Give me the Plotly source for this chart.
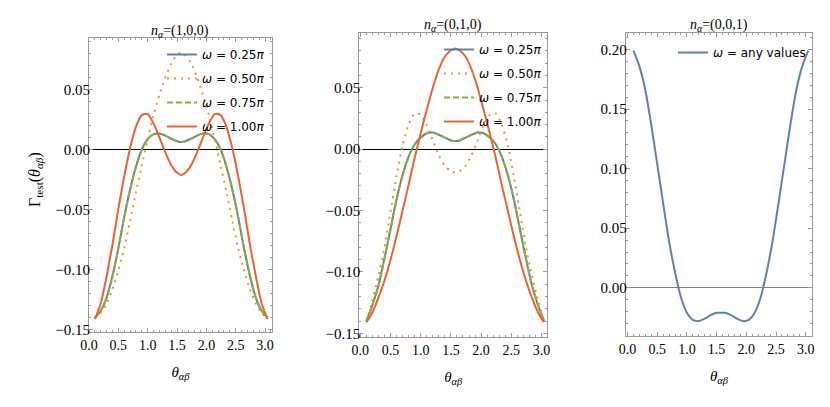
import plotly.graph_objects as go

# ---------------- data ----------------
theta = [0.1, 0.2, 0.3, 0.4, 0.5, 0.6, 0.7, 0.8, 0.9, 1.0, 1.1, 1.2, 1.3, 1.4, 1.5, 1.571,
         1.642, 1.742, 1.842, 1.942, 2.042, 2.142, 2.242, 2.342, 2.442, 2.542, 2.642, 2.742, 2.842, 2.942, 3.042]

# panel 1: n_alpha = (1,0,0)
p1_w025 = [-0.140, -0.134, -0.123, -0.105, -0.082, -0.056, -0.033, -0.014, 0.0005, 0.009, 0.0132, 0.0137, 0.012, 0.0094, 0.0073, 0.0067,
           0.0073, 0.0094, 0.012, 0.0137, 0.0132, 0.009, 0.0005, -0.014, -0.033, -0.056, -0.082, -0.105, -0.123, -0.134, -0.140]
p1_w050 = [-0.140, -0.136, -0.128, -0.116, -0.100, -0.082, -0.059, -0.035, -0.013, 0.009, 0.029, 0.046, 0.0605, 0.072, 0.079, 0.081,
           0.079, 0.072, 0.0605, 0.046, 0.029, 0.009, -0.013, -0.035, -0.059, -0.082, -0.100, -0.116, -0.128, -0.136, -0.140]
p1_w075 = [-0.140, -0.134, -0.123, -0.105, -0.082, -0.056, -0.033, -0.014, 0.0005, 0.009, 0.0132, 0.0137, 0.012, 0.0094, 0.0073, 0.0067,
           0.0073, 0.0094, 0.012, 0.0137, 0.0132, 0.009, 0.0005, -0.014, -0.033, -0.056, -0.082, -0.105, -0.123, -0.134, -0.140]
p1_w100 = [-0.141, -0.128, -0.105, -0.079, -0.049, -0.022, 0.0015, 0.0193, 0.029, 0.0299, 0.022, 0.0105, -0.002, -0.0125, -0.019, -0.0208,
           -0.019, -0.0125, -0.002, 0.0105, 0.022, 0.0299, 0.029, 0.0193, 0.0015, -0.022, -0.049, -0.079, -0.105, -0.128, -0.141]

# panel 2: n_alpha = (0,1,0)
p2_w025 = [-0.140, -0.127, -0.111, -0.089, -0.065, -0.041, -0.021, -0.006, 0.004, 0.0095, 0.013, 0.0135, 0.0117, 0.0094, 0.0071, 0.0066,
           0.0071, 0.0094, 0.0117, 0.0135, 0.013, 0.0095, 0.004, -0.006, -0.021, -0.041, -0.065, -0.089, -0.111, -0.127, -0.140]
p2_w050 = [-0.140, -0.123, -0.103, -0.080, -0.051, -0.022, 0.003, 0.020, 0.029, 0.028, 0.019, 0.007, -0.005, -0.0135, -0.018, -0.019,
           -0.018, -0.0135, -0.005, 0.007, 0.019, 0.028, 0.029, 0.020, 0.003, -0.022, -0.051, -0.080, -0.103, -0.123, -0.140]
p2_w075 = [-0.140, -0.127, -0.111, -0.089, -0.065, -0.041, -0.021, -0.006, 0.004, 0.0095, 0.013, 0.0135, 0.0117, 0.0094, 0.0071, 0.0066,
           0.0071, 0.0094, 0.0117, 0.0135, 0.013, 0.0095, 0.004, -0.006, -0.021, -0.041, -0.065, -0.089, -0.111, -0.127, -0.140]
p2_w100 = [-0.141, -0.133, -0.121, -0.107, -0.090, -0.071, -0.050, -0.029, -0.007, 0.013, 0.032, 0.050, 0.065, 0.0755, 0.0805, 0.082,
           0.0805, 0.0755, 0.065, 0.050, 0.032, 0.013, -0.007, -0.029, -0.050, -0.071, -0.090, -0.107, -0.121, -0.133, -0.141]

# panel 3: n_alpha = (0,0,1)
p3_any = [0.199, 0.186, 0.166, 0.137, 0.104, 0.071, 0.039, 0.013, -0.008, -0.021, -0.027, -0.028, -0.026, -0.023, -0.021, -0.021,
          -0.021, -0.023, -0.026, -0.028, -0.027, -0.021, -0.008, 0.013, 0.039, 0.071, 0.104, 0.137, 0.166, 0.186, 0.199]

series_labels = ["<i>ω</i> = 0.25<i>π</i>", "<i>ω</i> = 0.50<i>π</i>",
                 "<i>ω</i> = 0.75<i>π</i>", "<i>ω</i> = 1.00<i>π</i>"]
any_label = "<i>ω</i> = any values"
panel_titles = ["<i>n</i><sub><i>α</i></sub>=(1,0,0)", "<i>n</i><sub><i>α</i></sub>=(0,1,0)",
                "<i>n</i><sub><i>α</i></sub>=(0,0,1)"]
x_ticks = [0.0, 0.5, 1.0, 1.5, 2.0, 2.5, 3.0]

# ---------------- styling ----------------
BLUE, ORANGE, GREEN, RED = "#5e81b5", "#e19c24", "#8fb032", "#eb6235"
styles = [dict(color=BLUE, width=2, dash="solid"),
          dict(color=ORANGE, width=2, dash="2px,5px"),
          dict(color=GREEN, width=2, dash="6px,3px"),
          dict(color=RED, width=2, dash="solid")]
FRAME = "#9a9a9a"
SERIF = "Liberation Serif"
SANS = "DejaVu Sans"

W, H = 830, 407
def xd(a, b):
    return [a / W, b / W]
def yd(top, bottom):
    return [1 - bottom / H, 1 - top / H]

fig = go.Figure()

panels = [
    dict(ys=[p1_w025, p1_w050, p1_w075, p1_w100], xa="x", ya="y", leg="legend"),
    dict(ys=[p2_w025, p2_w050, p2_w075, p2_w100], xa="x2", ya="y2", leg="legend2"),
]
for p in panels:
    for i, (yv, lab) in enumerate(zip(p["ys"], series_labels)):
        fig.add_trace(go.Scatter(
            x=theta, y=yv, mode="lines", name=lab,
            line=dict(**styles[i], shape="spline", smoothing=0.7),
            xaxis=p["xa"], yaxis=p["ya"], legend=p["leg"], legendgroup=f"{p['leg']}_{i}"))
fig.add_trace(go.Scatter(x=theta, y=p3_any, mode="lines", name=any_label,
                         line=dict(color=BLUE, width=2, shape="spline", smoothing=0.7),
                         xaxis="x3", yaxis="y3", legend="legend3"))

def xaxis(dom, rng):
    return dict(domain=dom, range=rng, showgrid=False, zeroline=False,
                showline=True, linecolor=FRAME, linewidth=1, mirror="allticks",
                ticks="inside", ticklen=4, tickcolor=FRAME, tickvals=x_ticks, tickformat=".1f",
                minor=dict(dtick=0.1, tick0=0, ticks="inside", ticklen=2, tickcolor=FRAME, showgrid=False),
                tickfont=dict(family=SERIF, size=14, color="black"),
                title=dict(text="<i>θ</i><sub><i>αβ</i></sub>", font=dict(family=SERIF, size=15, color="black"), standoff=14),
                automargin=False, fixedrange=True)

def yaxis(dom, rng, zc):
    return dict(domain=dom, range=rng, showgrid=False, zeroline=True, zerolinecolor=zc, zerolinewidth=1,
                showline=True, linecolor=FRAME, linewidth=1, mirror="allticks",
                ticks="inside", ticklen=4, tickcolor=FRAME, dtick=0.05, tick0=0, tickformat=".2f",
                minor=dict(dtick=0.01, tick0=0, ticks="inside", ticklen=2, tickcolor=FRAME, showgrid=False),
                tickfont=dict(family=SERIF, size=15, color="black"), ticklabelstandoff=-5,
                automargin=False, fixedrange=True)

fig.update_layout(
    width=W, height=H, margin=dict(l=0, r=0, t=0, b=0),
    paper_bgcolor="white", plot_bgcolor="white", showlegend=True,
    xaxis=dict(xaxis(xd(89, 272), [0.0, 3.118]), anchor="y"),
    yaxis=dict(yaxis(yd(38, 332), [-0.1517, 0.0933], "black"), anchor="x"),
    xaxis2=dict(xaxis(xd(359.3, 547.3), [-0.017, 3.096]), anchor="y2"),
    yaxis2=dict(yaxis(yd(33, 337), [-0.1530, 0.0946], "black"), anchor="x2"),
    xaxis3=dict(xaxis(xd(625.7, 812.3), [-0.030, 3.111]), anchor="y3"),
    yaxis3=dict(yaxis(yd(33, 336), [-0.0405, 0.2138], "#808080"), anchor="x3"),
)

leg_common = dict(bgcolor="rgba(0,0,0,0)", borderwidth=0, font=dict(family=SANS, size=12, color="black"),
                  xanchor="left", yanchor="top", traceorder="grouped", tracegroupgap=5)
fig.update_layout(
    legend=dict(leg_common, x=162 / W, y=1 - 40 / H),
    legend2=dict(leg_common, x=439 / W, y=1 - 35 / H),
    legend3=dict(leg_common, x=673 / W, y=1 - 38 / H),
)

# panel titles
for txt, xc, yc in zip(panel_titles, [180, 453, 719], [31, 26, 26]):
    fig.add_annotation(text=txt, xref="paper", yref="paper", x=xc / W, y=1 - yc / H,
                       showarrow=False, xanchor="center", yanchor="middle",
                       font=dict(family=SERIF, size=14, color="black"))

# y-axis title
fig.add_annotation(text="Γ<sub>test</sub>(<i>θ</i><sub><i>αβ</i></sub>)", xref="paper", yref="paper",
                   x=35 / W, y=1 - 180 / H, textangle=-90, showarrow=False,
                   xanchor="center", yanchor="middle", font=dict(family=SERIF, size=16, color="black"))

fig.write_html("out.html", config=dict(displayModeBar=False),
               post_script="document.body.style.margin='0';document.body.style.overflow='hidden';")
